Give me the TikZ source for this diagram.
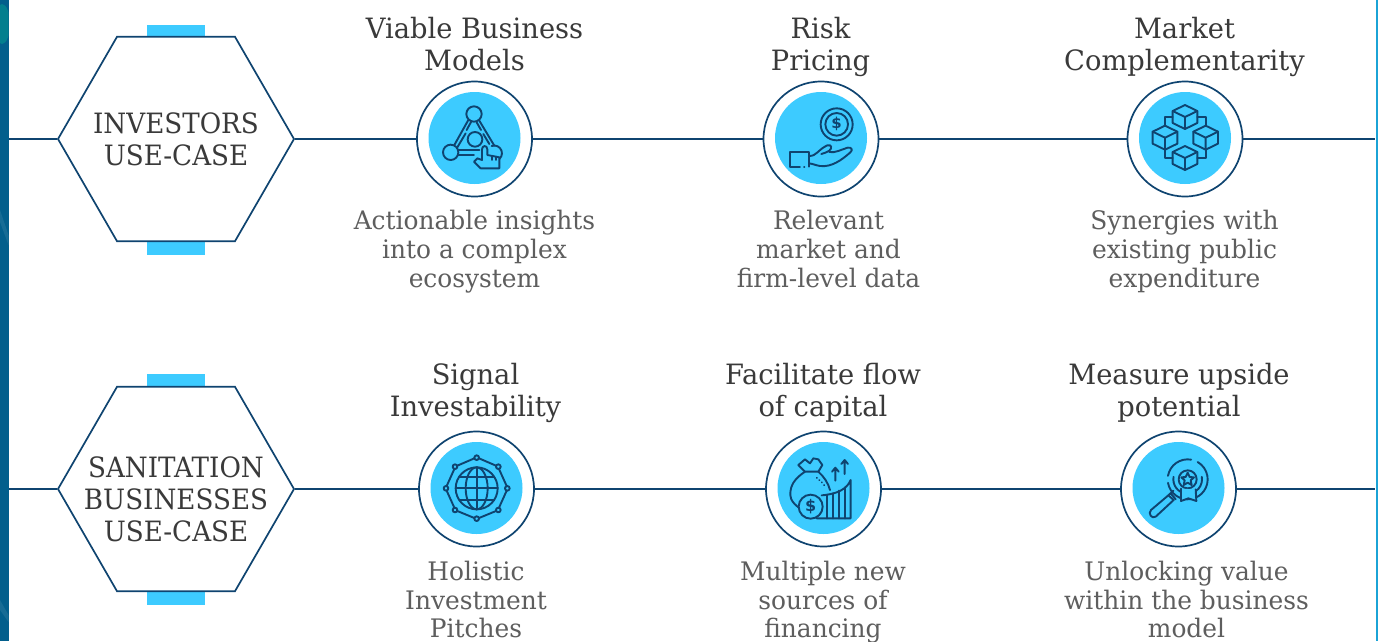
\documentclass[tikz,border=0pt]{standalone}
\usepackage{fontspec}
\setmainfont{DejaVu Serif}[FakeStretch=0.975]
\newfontfamily\hexfont{DejaVu Serif}[FakeStretch=0.935]
\newfontfamily\iconfont{DejaVu Sans}
\usetikzlibrary{shapes.geometric}
\definecolor{navy}{HTML}{0F4470}
\definecolor{cyanfill}{HTML}{3DCBFF}
\definecolor{headtxt}{HTML}{3A3A3A}
\definecolor{bodytxt}{HTML}{5E5E5E}
\definecolor{barblue}{HTML}{035F8C}
\definecolor{edgeblue}{HTML}{1BA3D6}
\definecolor{barteal}{HTML}{047F8E}
\newcommand\tp{\rule{0pt}{21pt}}
\newcommand\bt{\rule[-7pt]{0pt}{7pt}}
\tikzset{
  hexbox/.style={regular polygon,regular polygon sides=6,draw=navy,line width=1.7pt,fill=white,minimum size=236pt,inner sep=0pt},
  ring/.style={circle,draw=navy,line width=1.7pt,fill=white,minimum size=115pt,inner sep=0pt},
  disc/.style={circle,fill=cyanfill,minimum size=92pt,inner sep=0pt},
  link/.style={draw=navy,line width=1.7pt},
  tab/.style={fill=cyanfill,draw=none},
  head/.style={align=center,text=headtxt,inner sep=0pt,font=\fontsize{28}{32}\selectfont},
  hextext/.style={align=center,text=headtxt,inner sep=0pt,font=\hexfont\fontsize{28}{32}\selectfont},
  body/.style={align=center,text=bodytxt,inner sep=0pt,font=\fontsize{25.5}{29}\selectfont},
  icon/.style={draw=navy,line width=1.9pt,line join=round,line cap=round},
  zoomed/.style={x=0.33333pt,y=-0.33333pt},
}
\begin{document}
\begin{tikzpicture}[x=1pt,y=-1pt]
\useasboundingbox (0,0) rectangle (1378,641);
\fill[white] (0,0) rectangle (1378,641);
% side bars
\fill[barblue] (0,0) rectangle (8.5,641);
\begin{scope}
\clip (0,0) rectangle (8.5,641);
\fill[barteal] (2,24) ellipse [x radius=8,y radius=20];
\fill[barblue!92!white] (0,210) -- (8.5,235) -- (8.5,245) -- (0,222) -- cycle;
\fill[barblue!92!white] (0,600) -- (8.5,615) -- (8.5,622) -- (0,610) -- cycle;
\end{scope}
\fill[edgeblue] (1376,0) rectangle (1378,641);
% tabs
\fill[tab] (147,25) rectangle (205,37);
\fill[tab] (147,241) rectangle (205,255);
\fill[tab] (147,374) rectangle (205,387);
\fill[tab] (147,591) rectangle (205,605);
% anchors for free ends
\coordinate (la) at (8.5,139);
\coordinate (ra) at (1375,139);
\coordinate (lb) at (8.5,489);
\coordinate (rb) at (1375,489);
% nodes
\node[hexbox] (hexa) at (176,139) {};
\node[hexbox] (hexb) at (176,489) {};
\node[ring] (a1) at (474.5,139) {};
\node[ring] (a2) at (821,139) {};
\node[ring] (a3) at (1185,139) {};
\node[ring] (b1) at (476.5,489) {};
\node[ring] (b2) at (823.5,489) {};
\node[ring] (b3) at (1178.5,489) {};
\node[disc] (da1) at (474.5,138) {};
\node[disc] (da2) at (821,138) {};
\node[disc] (da3) at (1185,138) {};
\node[disc] (db1) at (476.5,488) {};
\node[disc] (db2) at (823.5,488) {};
\node[disc] (db3) at (1178.5,488) {};
% connectors
\draw[link] (la) -- (hexa.west);
\draw[link] (hexa.east) -- (a1.west);
\draw[link] (a1.east) -- (a2.west);
\draw[link] (a2.east) -- (a3.west);
\draw[link] (a3.east) -- (ra);
\draw[link] (lb) -- (hexb.west);
\draw[link] (hexb.east) -- (b1.west);
\draw[link] (b1.east) -- (b2.west);
\draw[link] (b2.east) -- (b3.west);
\draw[link] (b3.east) -- (rb);
% texts
\node[hextext] (ta) at (176,142) {\tp INVESTORS\\USE-CASE\bt};
\node[hextext] (tb) at (176,502.5) {\tp SANITATION\\BUSINESSES\\USE-CASE\bt};
\node[head] (h1) at (474.5,47) {\tp Viable Business\\Models\bt};
\node[head] (h2) at (820.5,47) {\tp Risk\\Pricing\bt};
\node[head] (h3) at (1184.5,47) {\tp Market\\Complementarity\bt};
\node[head] (h4) at (475.5,393) {\tp Signal\\Investability\bt};
\node[head] (h5) at (823,393) {\tp Facilitate flow\\of capital\bt};
\node[head] (h6) at (1179,393) {\tp Measure upside\\potential\bt};
\node[body] (s1) at (474.5,251) {\tp Actionable insights\\into a complex\\ecosystem\bt};
\node[body] (s2) at (828.5,251) {\tp Relevant\\market and\\firm-level data\bt};
\node[body] (s3) at (1184.5,251) {\tp Synergies with\\existing public\\expenditure\bt};
\node[body] (s4) at (476,598.5) {\tp Holistic\\Investment\\[-1.5pt]\smash{Pitches}};
\node[body] (s5) at (823,598.5) {\tp Multiple new\\sources of\\[-1.5pt]\smash{financing}};
\node[body] (s6) at (1186.5,598.5) {\tp Unlocking value\\within the business\\[-1.5pt]\smash{model}};
% icon 1: network and pointer
\begin{scope}[shift={(400,70)},zoomed]
\draw[icon] (222,132) circle (23);
\draw[icon] (152,247) circle (23);
\draw[icon] (225,208) circle (22);
\draw[icon] (275,228) arc (-110:130:23);
\draw[icon] (205,150) -- (163,225);
\draw[icon] (213,156) -- (200,180) (197,190) -- (172,232);
\draw[icon] (238,152) -- (283,227);
\draw[icon] (230,157) -- (243,180) (250,192) -- (268,222);
\draw[icon] (175,240) -- (238,240) (175,254) -- (222,254);
\draw[icon,fill=cyanfill] (222,275) -- (232,265) -- (246,270) -- (246,238) .. controls (246,225) and (262,225) .. (262,238) -- (262,255) -- (298,262) -- (298,295) -- (242,295) -- cycle;
\draw[icon] (275,258) -- (275,270) (287,260) -- (287,270);
\end{scope}
% icon 2: coin over hand
\begin{scope}[shift={(750,70)},zoomed]
\draw[icon] (260,163) circle (48);
\draw[icon] (260,163) circle (34);
\node[text=navy,inner sep=0pt,font=\iconfont\bfseries\fontsize{15}{15}\selectfont] (dollara) at (260,163) {\$};
\draw[icon] (150,290) -- (120,290) -- (120,247) -- (178,247) -- (178,290);
\draw[icon] (162,290) -- (163,290);
\draw[icon] (178,258) .. controls (200,258) and (205,238) .. (232,226) .. controls (245,222) and (247,235) .. (238,242) .. controls (230,247) and (222,250) .. (214,252) (238,246) .. controls (255,250) and (275,238) .. (293,233) .. controls (305,231) and (310,240) .. (300,248) .. controls (275,270) and (245,292) .. (210,288) .. controls (198,286) and (190,282) .. (178,280);
\end{scope}
% icon 3: cubes
\begin{scope}[shift={(1110,70)},zoomed]
\foreach \cx/\cy in {225/141,165/203,287/203,225/264}{
\draw[icon] (\cx,\cy-36) -- (\cx+37,\cy-18) -- (\cx+37,\cy+18) -- (\cx,\cy+36) -- (\cx-37,\cy+18) -- (\cx-37,\cy-18) -- cycle;
\draw[icon] (\cx-37,\cy-18) -- (\cx,\cy) -- (\cx+37,\cy-18) (\cx,\cy) -- (\cx,\cy+36);
}
\draw[icon] (188,141) -- (165,141) -- (165,167);
\draw[icon] (262,141) -- (287,141) -- (287,167);
\draw[icon] (165,239) -- (165,265) -- (188,265);
\draw[icon] (287,239) -- (287,265) -- (262,265);
\end{scope}
% icon 4: globe
\begin{scope}[shift={(400,420)},zoomed]
\draw[icon] (230,205) circle (63);
\draw[icon] (230,205) ellipse [x radius=33,y radius=63];
\draw[icon] (230,142) -- (230,268);
\draw[icon] (167,205) -- (293,205);
\draw[icon] (178,170) -- (282,170);
\draw[icon] (178,240) -- (282,240);
\foreach \px/\py in {230/113,295/140,322/205,295/270,230/296,165/270,138/205,165/140}{
\draw[icon] (\px,\py) circle (7);
}
\draw[icon] (237,115) -- (288,137) (297,147) -- (320,198) (320,212) -- (297,263) (288,273) -- (237,294) (223,294) -- (172,273) (163,263) -- (140,212) (140,198) -- (163,147) (172,137) -- (223,115);
\end{scope}
% icon 5: money bag and growth
\begin{scope}[shift={(750,420)},zoomed]
\draw[icon] (165,155) -- (145,135) -- (165,118) -- (180,130) -- (190,115) -- (205,118) -- (217,135) -- (205,155) -- cycle;
\draw[icon] (165,155) .. controls (135,175) and (120,195) .. (121,225) .. controls (122,240) and (130,250) .. (145,262);
\draw[icon] (205,155) .. controls (222,170) and (235,190) .. (240,210);
\foreach \dx/\dy in {200/173,208/180,215/187,222/195}{\draw[icon] (\dx,\dy) -- (\dx+.5,\dy+.5);}
\draw[icon] (200,295) -- (302,295) -- (302,180) .. controls (292,205) and (265,222) .. (215,226);
\foreach \vx/\vy in {230/224,248/220,266/212,284/202}{\draw[icon] (\vx,\vy) -- (\vx,295);}
\draw[icon,fill=cyanfill] (182,260) circle (36);
\node[text=navy,inner sep=0pt,font=\iconfont\bfseries\fontsize{16}{16}\selectfont] (dollarb) at (182,260) {\$};
\draw[icon] (256,182) -- (256,143) (246,155) -- (256,143) -- (266,155);
\draw[icon] (284,162) -- (284,120) (274,132) -- (284,120) -- (294,132);
\end{scope}
% icon 6: magnifier and award
\begin{scope}[shift={(1105,420)},zoomed]
\draw[icon] (248,178) ++(170:60) arc (170:-60:60);
\draw[icon] (248,178) ++(-80:60) arc (-80:-170:60);
\draw[icon] (248,178) ++(190:43) arc (190:-10:43);
\draw[icon] (248,178) circle (27);
\draw[icon] (248,158) -- (254,171) -- (267,172) -- (257,181) -- (260,195) -- (248,188) -- (236,195) -- (239,181) -- (229,172) -- (242,171) -- cycle;
\draw[icon,fill=cyanfill] (228,206) -- (228,243) -- (250,235) -- (274,243) -- (272,208);
\draw[icon] (197,220) -- (212,238) (190,226) -- (205,212);
\draw[icon] (190,226) -- (138,270) .. controls (128,280) and (140,298) .. (152,290) -- (206,240) -- (190,226);
\end{scope}
\end{tikzpicture}
\end{document}
